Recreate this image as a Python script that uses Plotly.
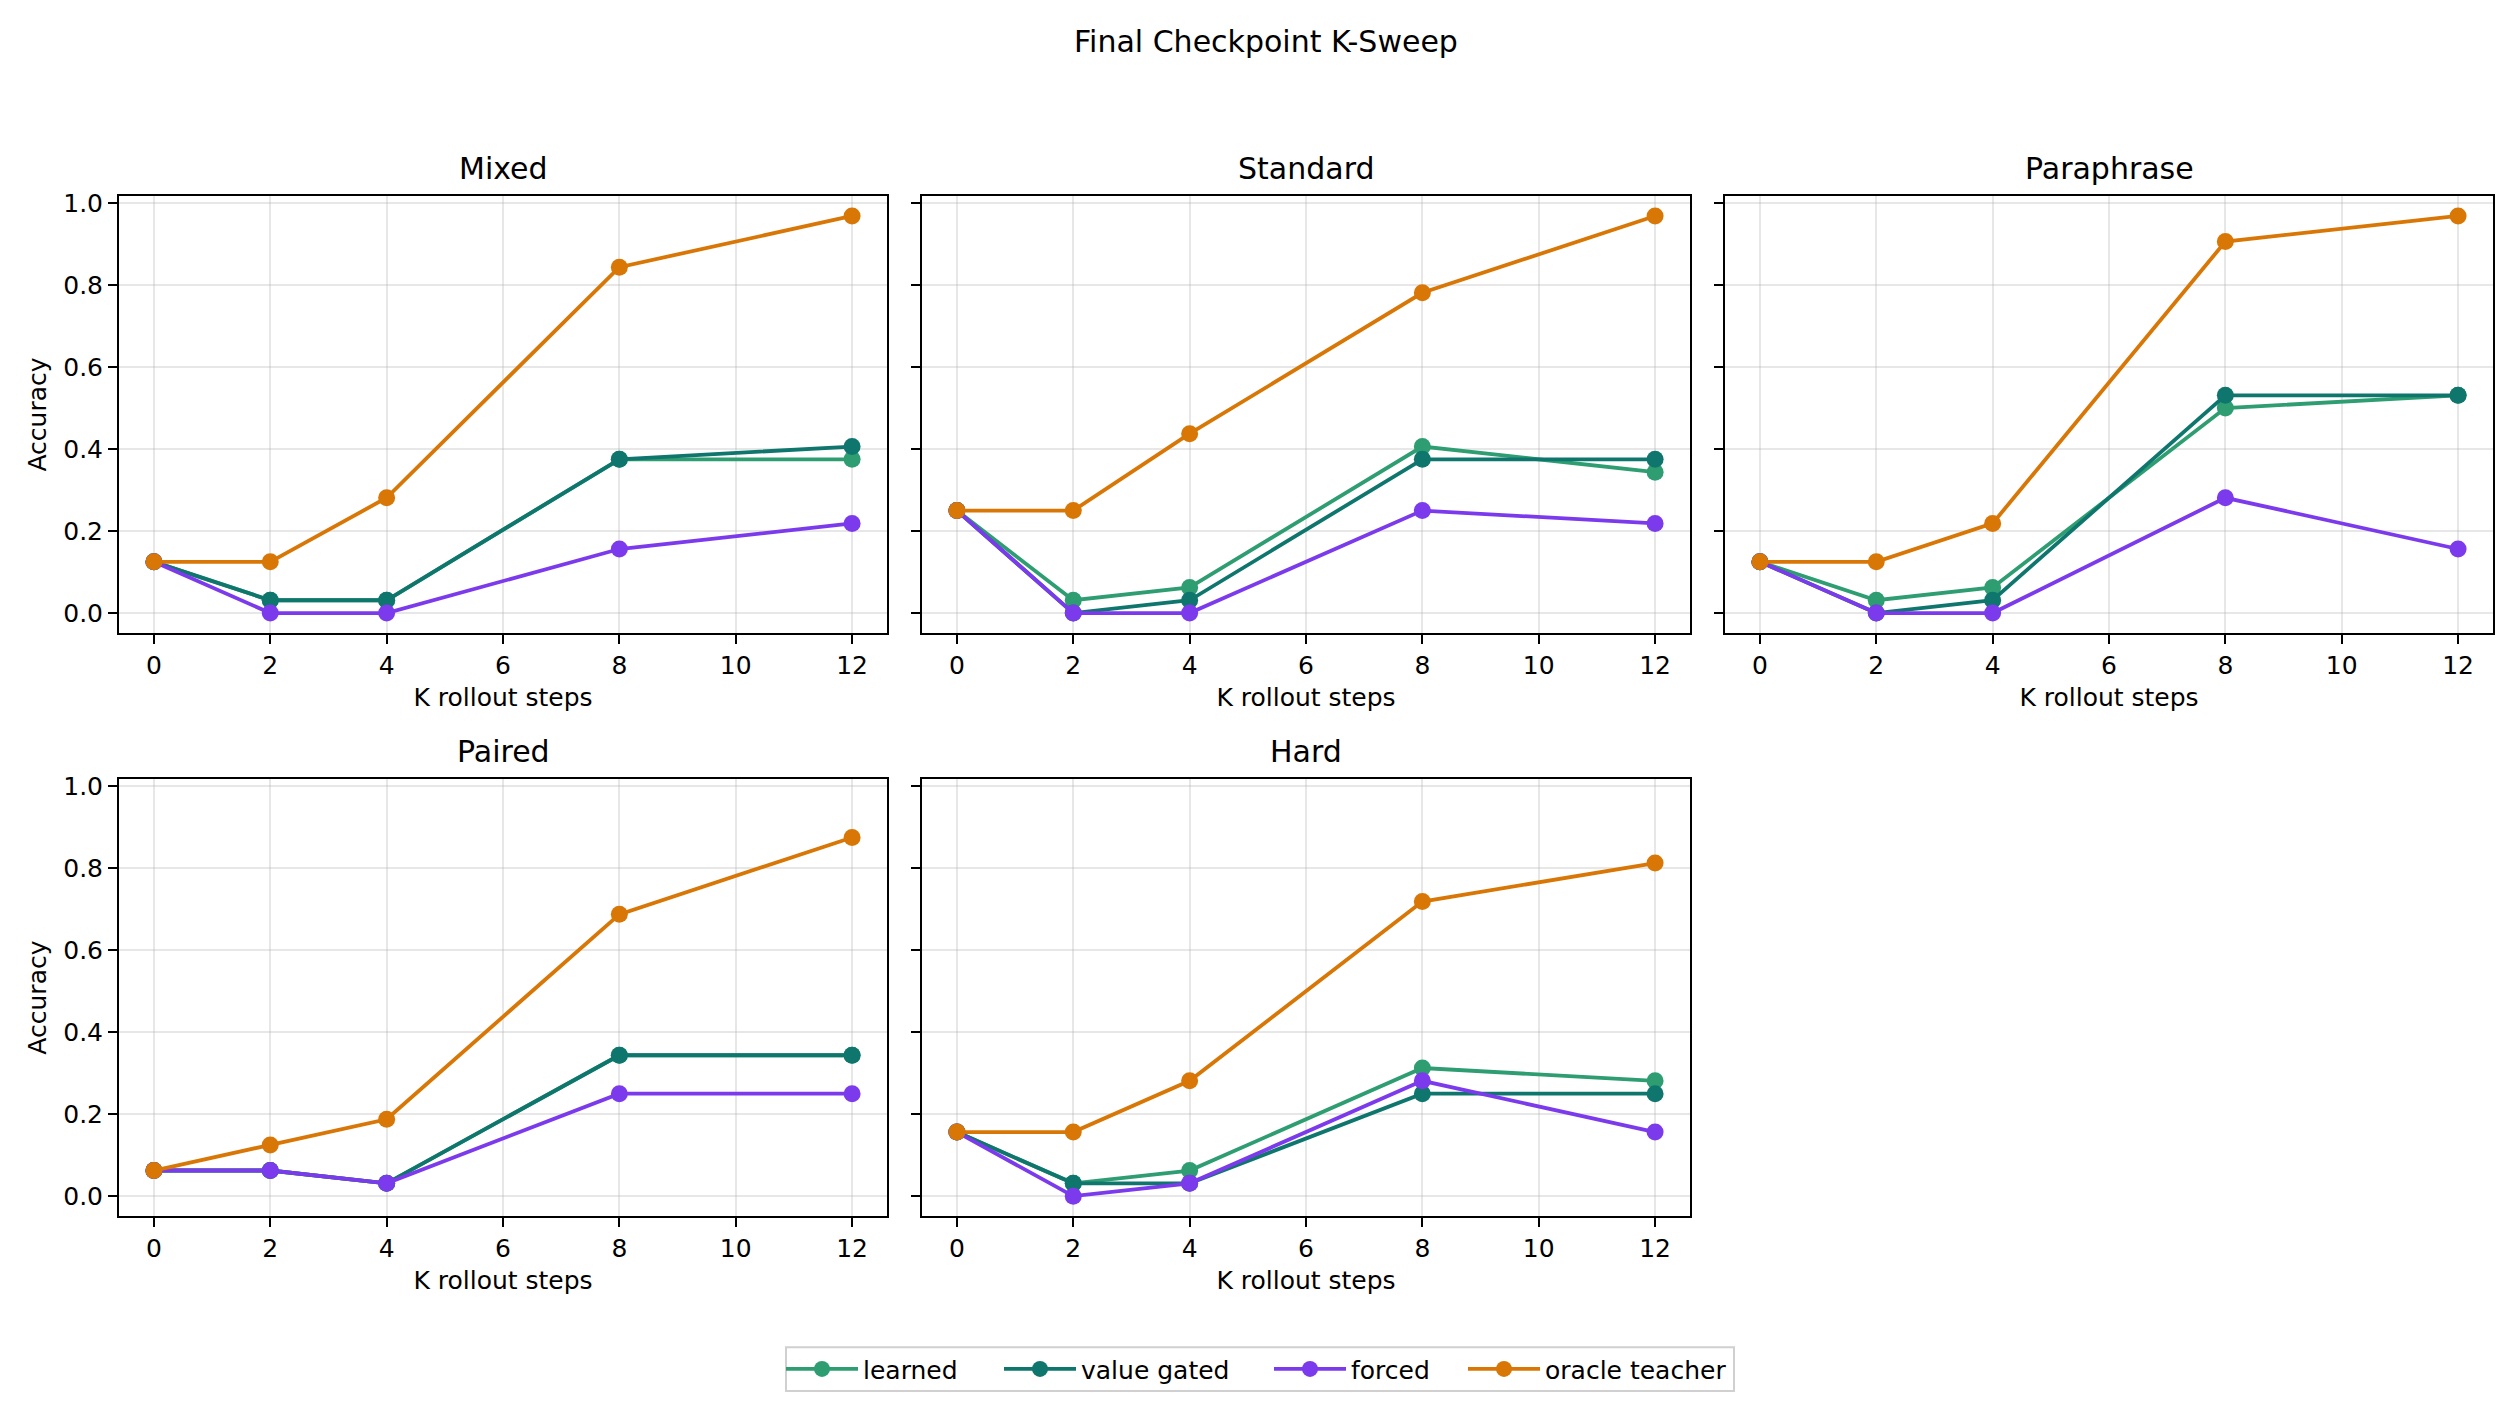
import plotly.graph_objects as go

K_STEPS = [0, 2, 4, 8, 12]
PANELS = ["Mixed", "Standard", "Paraphrase", "Paired", "Hard"]
SERIES = ["learned", "value gated", "forced", "oracle teacher"]

mixed_learned = [0.125, 0.03125, 0.03125, 0.375, 0.375]
mixed_value_gated = [0.125, 0.03125, 0.03125, 0.375, 0.40625]
mixed_forced = [0.125, 0.0, 0.0, 0.15625, 0.21875]
mixed_oracle = [0.125, 0.125, 0.28125, 0.84375, 0.96875]

standard_learned = [0.25, 0.03125, 0.0625, 0.40625, 0.34375]
standard_value_gated = [0.25, 0.0, 0.03125, 0.375, 0.375]
standard_forced = [0.25, 0.0, 0.0, 0.25, 0.21875]
standard_oracle = [0.25, 0.25, 0.4375, 0.78125, 0.96875]

paraphrase_learned = [0.125, 0.03125, 0.0625, 0.5, 0.53125]
paraphrase_value_gated = [0.125, 0.0, 0.03125, 0.53125, 0.53125]
paraphrase_forced = [0.125, 0.0, 0.0, 0.28125, 0.15625]
paraphrase_oracle = [0.125, 0.125, 0.21875, 0.90625, 0.96875]

paired_learned = [0.0625, 0.0625, 0.03125, 0.34375, 0.34375]
paired_value_gated = [0.0625, 0.0625, 0.03125, 0.34375, 0.34375]
paired_forced = [0.0625, 0.0625, 0.03125, 0.25, 0.25]
paired_oracle = [0.0625, 0.125, 0.1875, 0.6875, 0.875]

hard_learned = [0.15625, 0.03125, 0.0625, 0.3125, 0.28125]
hard_value_gated = [0.15625, 0.03125, 0.03125, 0.25, 0.25]
hard_forced = [0.15625, 0.0, 0.03125, 0.28125, 0.15625]
hard_oracle = [0.15625, 0.15625, 0.28125, 0.71875, 0.8125]

DATA = {
    "Mixed": [mixed_learned, mixed_value_gated, mixed_forced, mixed_oracle],
    "Standard": [standard_learned, standard_value_gated, standard_forced, standard_oracle],
    "Paraphrase": [paraphrase_learned, paraphrase_value_gated, paraphrase_forced, paraphrase_oracle],
    "Paired": [paired_learned, paired_value_gated, paired_forced, paired_oracle],
    "Hard": [hard_learned, hard_value_gated, hard_forced, hard_oracle],
}

COLORS = ["#2E9E72", "#0F766E", "#7C3AED", "#D97706"]

W, H = 2520, 1404
OFF = 8  # page body margin
FONT = "DejaVu Sans"

# page-pixel boxes (left, right, top, bottom)
boxes = [
    (119, 887, 190, 629),
    (922, 1690, 190, 629),
    (1725, 2493, 190, 629),
    (119, 887, 776, 1215),
    (922, 1690, 776, 1215),
]


def px(xp):
    return (xp - OFF) / W


def py(yp):
    return 1 - (yp - OFF) / H


fig = go.Figure()
annotations = []
legend_names = ["legend", "legend2", "legend3", "legend4"]

for i, name in enumerate(PANELS):
    l, r, t, b = boxes[i]
    xd = [px(l), px(r)]
    yd = [py(b), py(t)]
    sfx = "" if i == 0 else str(i + 1)
    for j, s in enumerate(SERIES):
        fig.add_trace(go.Scatter(
            x=K_STEPS, y=DATA[name][j], mode="lines+markers", name=s,
            line=dict(color=COLORS[j], width=3.8),
            marker=dict(color=COLORS[j], size=17),
            xaxis="x" + sfx, yaxis="y" + sfx,
            showlegend=(i == 0), legendgroup=s, legend=legend_names[j],
        ))
    first_col = i in (0, 3)
    fig.layout["xaxis" + sfx] = dict(
        domain=xd, anchor="y" + sfx, range=[-0.6, 12.6],
        tickvals=[0, 2, 4, 6, 8, 10, 12], ticks="outside", ticklen=9, tickwidth=2,
        tickcolor="black", showline=True, linecolor="black", linewidth=2, mirror=True,
        showgrid=True, gridcolor="rgba(176,176,176,0.3)", gridwidth=2, zeroline=False,
        tickfont=dict(family=FONT, size=25, color="black"),
        title=dict(text="K rollout steps", font=dict(family=FONT, size=25, color="black"), standoff=10),
    )
    fig.layout["yaxis" + sfx] = dict(
        domain=yd, anchor="x" + sfx, range=[-0.0484, 1.0172],
        tickvals=[0, 0.2, 0.4, 0.6, 0.8, 1.0], tickformat=".1f",
        showticklabels=first_col,
        ticks="outside", ticklen=9, tickwidth=2,
        tickcolor="black", showline=True, linecolor="black", linewidth=2, mirror=True,
        showgrid=True, gridcolor="rgba(176,176,176,0.3)", gridwidth=2, zeroline=False,
        tickfont=dict(family=FONT, size=25, color="black"),
        title=dict(text="Accuracy" if first_col else "", font=dict(family=FONT, size=25, color="black"), standoff=9),
    )
    annotations.append(dict(
        text=name, x=(xd[0] + xd[1]) / 2, y=yd[1], xref="paper", yref="paper",
        xanchor="center", yanchor="bottom", yshift=8, showarrow=False,
        font=dict(family=FONT, size=30, color="black"),
    ))

annotations.append(dict(
    text="Final Checkpoint K-Sweep", x=px(1266), y=py(35), xref="paper", yref="paper",
    xanchor="center", yanchor="middle", showarrow=False,
    font=dict(family=FONT, size=30, color="black"),
))

# legend entries (marker centre page x)
legend_marker_x = [812, 1030, 1300, 1494]
legend_y = 1369
for k, ln in enumerate(legend_names):
    fig.layout[ln] = dict(
        orientation="h", x=px(legend_marker_x[k] - 31), xanchor="left",
        y=py(legend_y), yanchor="middle",
        borderwidth=0, bgcolor="rgba(0,0,0,0)",
        font=dict(family=FONT, size=25, color="black"),
        itemwidth=72,
    )

shapes = [dict(
    type="rect", xref="paper", yref="paper",
    x0=px(786), x1=px(1734), y0=py(1391), y1=py(1347),
    line=dict(color="#D0D0D0", width=2), fillcolor="rgba(0,0,0,0)", layer="above",
)]

fig.update_layout(
    width=W, height=H,
    margin=dict(l=0, r=0, t=0, b=0),
    paper_bgcolor="white", plot_bgcolor="white",
    annotations=annotations,
    shapes=shapes,
    showlegend=True,
    font=dict(family=FONT),
)

fig.write_html("out.html")
